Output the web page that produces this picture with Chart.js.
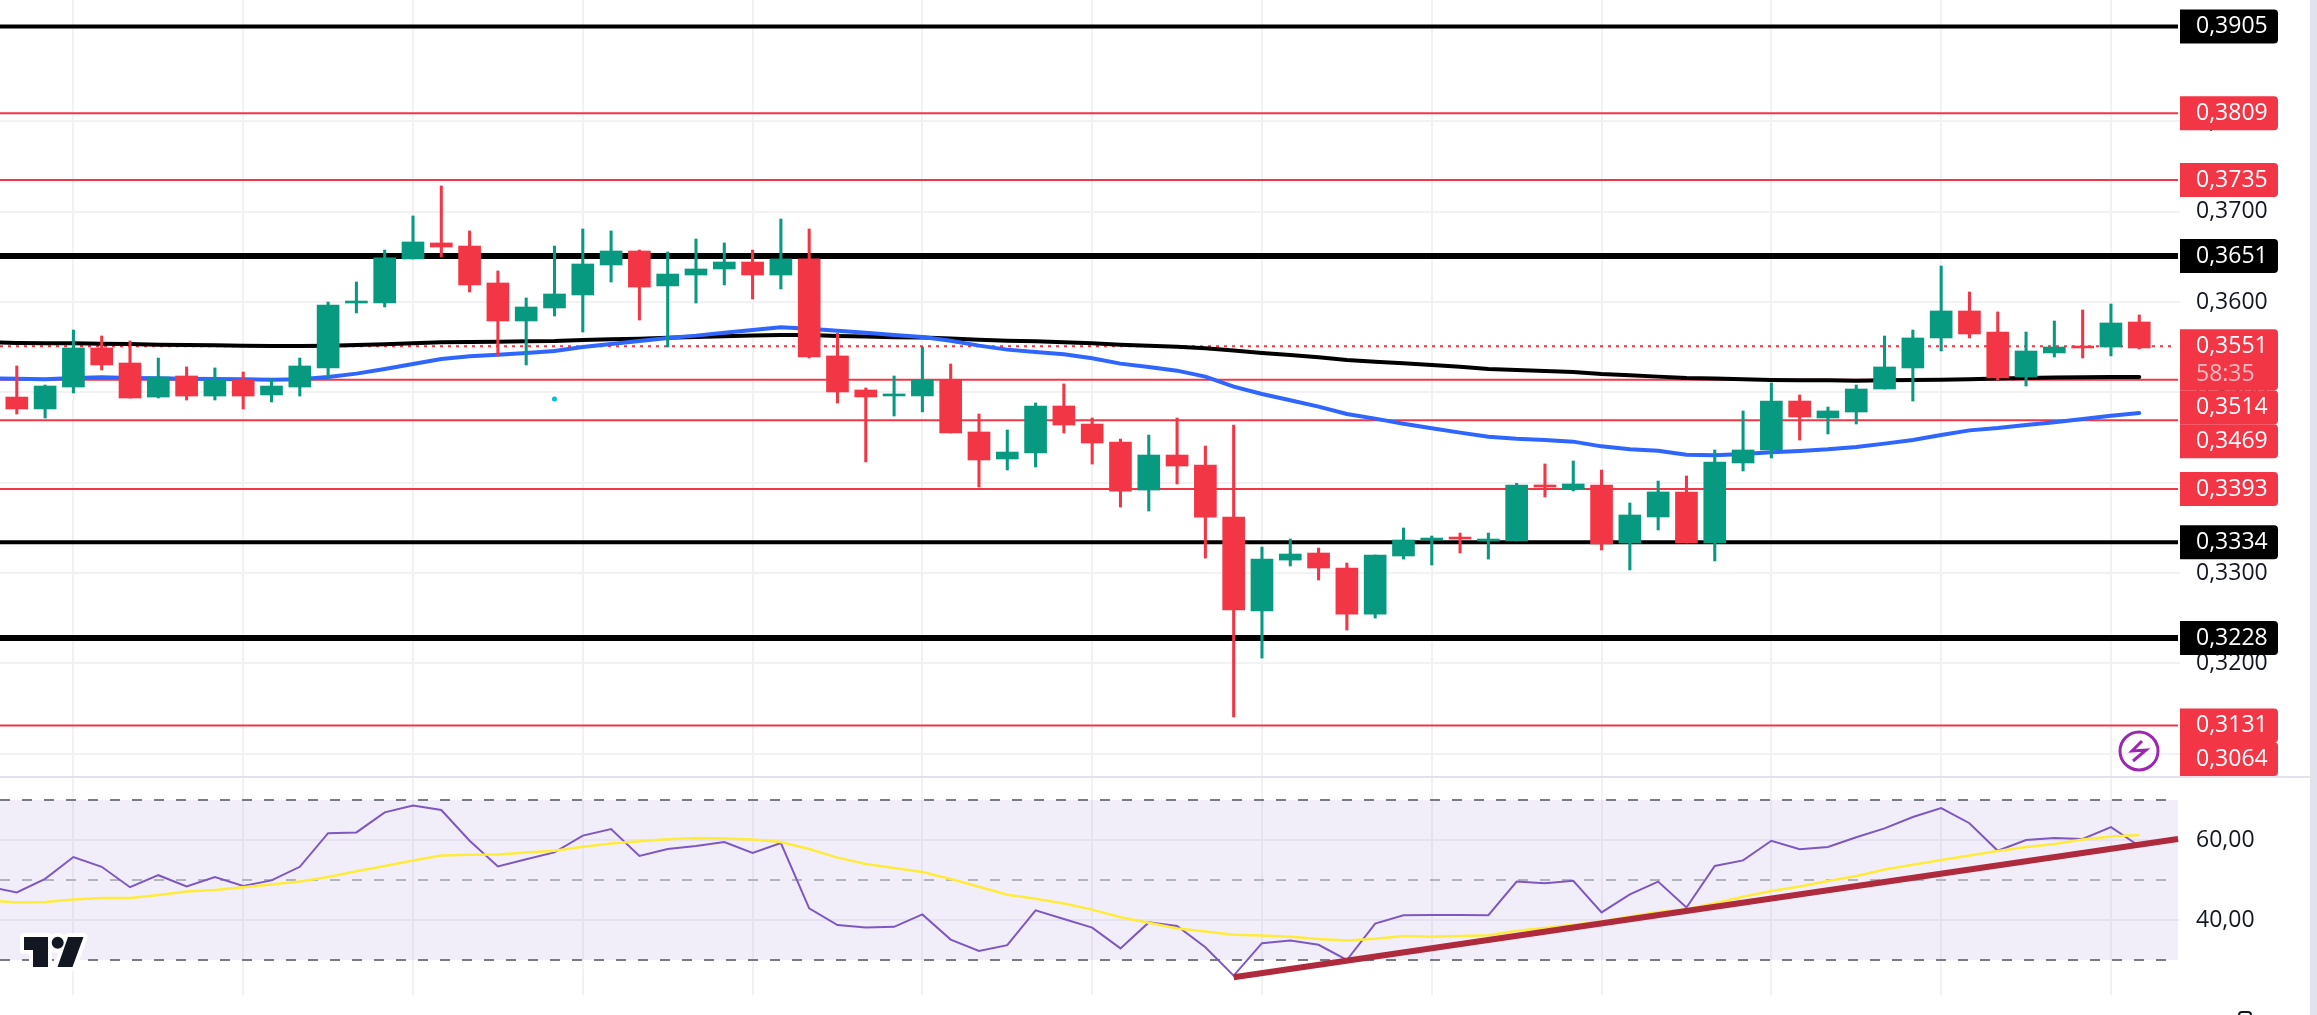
<!DOCTYPE html>
<html>
<head>
<meta charset="utf-8">
<title>XRP 0,3551</title>
<script src="https://cdn.jsdelivr.net/npm/chart.js@4"></script>
<style>
  html, body { margin: 0; padding: 0; background: #fff; overflow: hidden; }
  #pagina { position: relative; width: 2317px; height: 1015px; background: #fff; overflow: hidden; }
  canvas { position: absolute; left: 0; display: block; }
  #graficoPreco { top: 0; }
  #graficoRsi { top: 777px; }
  #separador { position: absolute; left: 0; top: 776px; width: 2310px; height: 2px; background: #e0e3eb; }
  #faixa { position: absolute; left: 2310px; top: 0; width: 7px; height: 1015px; background: #e0e3eb; }
  #engrenagem { position: absolute; left: 2238px; top: 1011px; width: 10px; height: 8px; border: 2px solid #131722; border-radius: 4px 4px 0 0; }
</style>
</head>
<body>
<div id="pagina">
  <canvas id="graficoPreco" width="2317" height="777"></canvas>
  <canvas id="graficoRsi" width="2317" height="218"></canvas>
  <div id="separador"></div>
  <div id="faixa"></div>
  <div id="engrenagem"></div>
</div>
<script>
// velas
const abertura = [0.34948,0.34816,0.35059,0.35491,0.35325,0.34948,0.35181,0.34959,0.35137,0.34971,0.35059,0.35270,0.35989,0.35989,0.36477,0.36654,0.36620,0.36211,0.35790,0.35934,0.36078,0.36410,0.36565,0.36178,0.36299,0.36366,0.36443,0.36299,0.36477,0.35403,0.35026,0.34960,0.34960,0.35137,0.34561,0.34262,0.34328,0.34849,0.34649,0.34450,0.33918,0.34306,0.34195,0.33619,0.32579,0.33143,0.33221,0.33055,0.32545,0.33188,0.33365,0.33398,0.33354,0.33354,0.33974,0.33930,0.33974,0.33332,0.33620,0.33897,0.33332,0.34218,0.34362,0.34904,0.34716,0.34782,0.35037,0.35270,0.35602,0.35901,0.35668,0.35170,0.35436,0.35513,0.35502,0.35779];
const maximas = [0.35292,0.35081,0.35690,0.35624,0.35569,0.35380,0.35281,0.35270,0.35225,0.35148,0.35380,0.36000,0.36222,0.36576,0.36953,0.37285,0.36787,0.36344,0.36045,0.36620,0.36809,0.36787,0.36576,0.36554,0.36698,0.36654,0.36576,0.36919,0.36809,0.35654,0.35048,0.35181,0.35502,0.35314,0.34760,0.34583,0.34882,0.35093,0.34716,0.34483,0.34527,0.34716,0.34406,0.34638,0.33287,0.33376,0.33276,0.33110,0.33199,0.33498,0.33409,0.33442,0.33442,0.33993,0.34207,0.34240,0.34140,0.33775,0.34018,0.34074,0.34362,0.34794,0.35104,0.34971,0.34838,0.35081,0.35624,0.35690,0.36399,0.36111,0.35890,0.35668,0.35790,0.35912,0.35978,0.35857];
const minimas = [0.34760,0.34716,0.34993,0.35247,0.34937,0.34937,0.34915,0.34915,0.34816,0.34893,0.34959,0.35159,0.35879,0.35945,0.36477,0.36499,0.36111,0.35402,0.35303,0.35845,0.35668,0.36222,0.35801,0.35502,0.35989,0.36189,0.36034,0.36144,0.35380,0.34882,0.34229,0.34738,0.34783,0.34550,0.33952,0.34140,0.34173,0.34550,0.34206,0.33730,0.33686,0.33985,0.33165,0.31405,0.32058,0.33077,0.32922,0.32368,0.32501,0.33154,0.33088,0.33221,0.33154,0.33354,0.33841,0.33908,0.33254,0.33033,0.33476,0.33332,0.33133,0.34129,0.34273,0.34472,0.34539,0.34650,0.35037,0.34904,0.35458,0.35602,0.35137,0.35070,0.35391,0.35380,0.35403,0.35480];
const fechamento = [0.34816,0.35070,0.35491,0.35303,0.34937,0.35170,0.34959,0.35137,0.34959,0.35070,0.35292,0.35967,0.36011,0.36488,0.36665,0.36609,0.36189,0.35790,0.35945,0.36089,0.36421,0.36565,0.36166,0.36310,0.36366,0.36443,0.36299,0.36477,0.35392,0.35004,0.34949,0.34982,0.35137,0.34550,0.34251,0.34339,0.34849,0.34638,0.34439,0.33907,0.34306,0.34184,0.33619,0.32590,0.33154,0.33210,0.33055,0.32545,0.33199,0.33365,0.33387,0.33376,0.33376,0.33974,0.33952,0.33985,0.33321,0.33642,0.33897,0.33332,0.34229,0.34362,0.34904,0.34727,0.34794,0.35037,0.35281,0.35602,0.35901,0.35646,0.35159,0.35458,0.35502,0.35491,0.35768,0.35491];

// medias moveis (comecam uma vela antes da primeira)
const mediaAzul = [0.35155,0.35151,0.35144,0.35159,0.35166,0.35159,0.35155,0.35151,0.35148,0.35144,0.35140,0.35144,0.35170,0.35207,0.35258,0.35314,0.35369,0.35399,0.35417,0.35436,0.35458,0.35502,0.35535,0.35569,0.35602,0.35628,0.35661,0.35690,0.35720,0.35705,0.35683,0.35661,0.35635,0.35613,0.35572,0.35517,0.35473,0.35447,0.35421,0.35377,0.35318,0.35281,0.35240,0.35174,0.35063,0.34982,0.34912,0.34842,0.34760,0.34709,0.34653,0.34602,0.34554,0.34509,0.34487,0.34472,0.34454,0.34402,0.34369,0.34354,0.34310,0.34303,0.34317,0.34336,0.34351,0.34369,0.34395,0.34432,0.34472,0.34528,0.34579,0.34605,0.34638,0.34668,0.34705,0.34742,0.34771];
const mediaPreta = [0.35554,0.35546,0.35543,0.35543,0.35539,0.35535,0.35528,0.35524,0.35521,0.35517,0.35513,0.35513,0.35517,0.35524,0.35532,0.35543,0.35554,0.35557,0.35561,0.35565,0.35569,0.35580,0.35587,0.35594,0.35605,0.35613,0.35620,0.35628,0.35635,0.35635,0.35624,0.35617,0.35609,0.35606,0.35595,0.35583,0.35572,0.35565,0.35554,0.35543,0.35528,0.35517,0.35506,0.35488,0.35462,0.35436,0.35414,0.35388,0.35358,0.35340,0.35321,0.35303,0.35284,0.35259,0.35248,0.35237,0.35225,0.35203,0.35188,0.35174,0.35159,0.35152,0.35144,0.35137,0.35133,0.35133,0.35129,0.35133,0.35137,0.35140,0.35144,0.35152,0.35159,0.35163,0.35166,0.35170,0.35170];

// niveis desenhados no grafico
const niveisPretos = [0.3905, 0.3651, 0.3334, 0.3228];
const niveisVermelhos = [0.3809, 0.3735, 0.3514, 0.3469, 0.3393, 0.3131, 0.3064];
const precoAtual = 0.3551;
const contagem = "58:35";
const ticksPreco = [0.38, 0.37, 0.36, 0.35, 0.34, 0.33, 0.32, 0.31];
const pontoCiano = [19, 0.34926];

// RSI (comeca uma vela antes da primeira)
const rsi = [48.3,46.9,50.3,55.75,53.3,48.2,51.2,48.4,50.75,48.5,49.9,53.3,61.7,61.9,66.9,68.6,67.5,59.8,53.4,55.2,56.9,61.1,62.75,56,57.75,58.5,59.5,56.75,59.25,42.9,38.75,38.1,38.3,41.4,35.1,32.25,33.7,42.4,40.25,38.1,32.9,39.4,38.5,33.2,26.1,34.2,34.9,33.8,30,39.1,41.2,41.25,41.25,41.2,49.6,49.2,49.8,41.9,46.4,49.6,43.1,53.5,54.9,59.8,57.7,58.25,60.7,62.9,65.75,68,64.2,57.3,60,60.5,60.25,63.2,58.5];
const rsiMedia = [44.9,44.4,44.5,45.1,45.5,45.5,46.25,47.1,47.5,48.2,48.9,49.6,50.75,52.2,53.5,54.9,56.1,56.3,56.4,56.9,57.3,58.3,59.1,59.7,60.2,60.5,60.4,60.1,59.5,57.75,55.6,54,53,52,50.25,48.3,46.3,45.3,44.1,42.6,40.7,39.3,37.9,37.1,36.3,36.1,35.8,35.25,34.9,35.3,36,35.8,36,36.2,37.3,38,38.8,39.6,40.9,42,42.7,44.2,45.8,47.25,48.4,49.75,51,52.6,53.8,55,56.1,57.25,58.25,59,60.1,60.9,61.25];
const tendenciaX = [43, 76.37];
const tendenciaY = [25.7, 60.25];
const bandaRsi = [70, 50, 30];
const ticksRsi = [60, 40];

// velas que recebem linha de grade vertical
const velasGrade = [2, 8, 14, 20, 26, 32, 38, 44, 50, 56, 62, 68, 74];

const VERDE = "#089981";
const VERMELHO = "#f23645";
const GRADE = "#f2f2f5";
const XMIN = -0.594;
const XMAX = 76.44;
const FIM_LINHA = 76.37;
const FIM_TRACO = 75.98;
const FONTE = '"Open Sans", sans-serif';
const TAM_FONTE = 23;

function linhaNivel(valor, cor, largura, traco, fim) {
  return {
    type: "line",
    data: [{ x: XMIN, y: valor }, { x: fim, y: valor }],
    borderColor: cor,
    borderWidth: largura,
    borderDash: traco || [],
    pointRadius: 0,
    order: 10,
  };
}

function serie(valores, inicio) {
  return valores.map((v, i) => ({ x: i + inicio, y: v }));
}

function eixoX() {
  return {
    type: "linear",
    min: XMIN,
    max: XMAX,
    offset: false,
    afterBuildTicks: (eixo) => {
      eixo.ticks = velasGrade.map((v) => ({ value: v }));
    },
    grid: { color: GRADE, lineWidth: 2, drawTicks: false, offset: false },
    border: { display: false },
    ticks: { display: false, autoSkip: false },
  };
}

function eixoY(min, max, valores, casas) {
  return {
    position: "right",
    min: min,
    max: max,
    afterBuildTicks: (eixo) => {
      eixo.ticks = valores.map((v) => ({ value: v }));
    },
    afterFit: (eixo) => {
      eixo.width = 137;
      eixo.paddingTop = 0;
      eixo.paddingBottom = 0;
    },
    grid: { color: GRADE, lineWidth: 2, drawTicks: false },
    border: { display: false },
    ticks: {
      autoSkip: false,
      color: "#131722",
      padding: 16,
      crossAlign: "near",
      font: { family: FONTE, size: TAM_FONTE },
      callback: (v) => Number(v).toFixed(casas).replace(".", ","),
    },
  };
}

// etiquetas da escala de preco, empilhadas de cima para baixo
const etiquetasPreco = {
  id: "etiquetasPreco",
  afterDraw(chart) {
    const ctx = chart.ctx;
    const y = chart.scales.y;
    const itens = [];
    niveisPretos.forEach((v) => itens.push({ v: v, cor: "#000000", alt: 34 }));
    niveisVermelhos.forEach((v) => itens.push({ v: v, cor: VERMELHO, alt: 34 }));
    itens.push({ v: precoAtual, cor: VERMELHO, alt: 61, contagem: contagem });
    itens.sort((a, b) => b.v - a.v);

    let fundo = 0;
    itens.forEach((it) => {
      const py = y.getPixelForValue(it.v);
      let topo = Math.max(py - (it.contagem ? 17 : it.alt / 2), fundo);
      if (topo + it.alt > 776) topo = 776 - it.alt;
      fundo = topo + it.alt;
      ctx.save();
      ctx.fillStyle = it.cor;
      ctx.beginPath();
      ctx.roundRect(2180, topo, 98, it.alt, [0, 4, 4, 0]);
      ctx.fill();
      ctx.font = TAM_FONTE + "px " + FONTE;
      ctx.textBaseline = "middle";
      ctx.fillStyle = "#ffffff";
      ctx.fillText(it.v.toFixed(4).replace(".", ","), 2196, topo + 17);
      if (it.contagem) {
        ctx.fillStyle = "rgba(255,255,255,0.65)";
        ctx.fillText(it.contagem, 2196, topo + 45);
      }
      ctx.restore();
    });

    // botao roxo
    ctx.save();
    ctx.strokeStyle = "#9c27b0";
    ctx.lineWidth = 3;
    ctx.beginPath();
    ctx.arc(2139, 751, 19, 0, Math.PI * 2);
    ctx.stroke();
    ctx.lineJoin = "miter";
    ctx.beginPath();
    ctx.moveTo(2142, 741);
    ctx.lineTo(2132, 751);
    ctx.lineTo(2146, 750);
    ctx.lineTo(2133, 761);
    ctx.stroke();
    ctx.restore();
  },
};

// logo no canto do painel de RSI
const logo = {
  id: "logo",
  afterDraw(chart) {
    const ctx = chart.ctx;
    const t = -777;
    ctx.save();
    ctx.translate(0, t);
    const formas = () => {
      ctx.beginPath();
      ctx.moveTo(24, 937);
      ctx.lineTo(48, 937);
      ctx.lineTo(48, 967);
      ctx.lineTo(33, 967);
      ctx.lineTo(33, 950);
      ctx.lineTo(24, 950);
      ctx.closePath();
      ctx.moveTo(68, 937);
      ctx.lineTo(83.5, 937);
      ctx.lineTo(72.5, 967);
      ctx.lineTo(57.5, 967);
      ctx.closePath();
      ctx.moveTo(63.7, 942.7);
      ctx.arc(57.7, 942.7, 6, 0, Math.PI * 2);
    };
    ctx.strokeStyle = "#ffffff";
    ctx.lineWidth = 8;
    ctx.lineJoin = "round";
    formas();
    ctx.stroke();
    ctx.fillStyle = "#131722";
    formas();
    ctx.fill();
    ctx.restore();
  },
};

Chart.defaults.animation = false;

new Chart(document.getElementById("graficoPreco"), {
  type: "bar",
  data: {
    datasets: [
      {
        label: "Corpo",
        data: abertura.map((a, i) => ({ x: i, y: [a, fechamento[i]] })),
        backgroundColor: abertura.map((a, i) => (fechamento[i] >= a ? VERDE : VERMELHO)),
        barThickness: 22,
        grouped: false,
        order: 1,
      },
      {
        label: "Pavio",
        data: abertura.map((a, i) => ({ x: i, y: [minimas[i], maximas[i]] })),
        backgroundColor: abertura.map((a, i) => (fechamento[i] >= a ? VERDE : VERMELHO)),
        barThickness: 2.4,
        grouped: false,
        order: 2,
      },
      {
        type: "line",
        label: "Media azul",
        data: serie(mediaAzul, -1),
        borderColor: "#2f66ff",
        borderWidth: 4,
        borderCapStyle: "round",
        pointRadius: 0,
        tension: 0,
        order: 3,
      },
      {
        type: "line",
        label: "Media preta",
        data: serie(mediaPreta, -1),
        borderColor: "#000000",
        borderWidth: 4,
        borderCapStyle: "round",
        pointRadius: 0,
        tension: 0,
        order: 4,
      },
      {
        type: "line",
        label: "Ponto",
        data: [{ x: pontoCiano[0], y: pontoCiano[1] }],
        pointRadius: 2.5,
        pointBackgroundColor: "#00bcd4",
        pointBorderWidth: 0,
        showLine: false,
        order: 5,
      },
      linhaNivel(precoAtual, VERMELHO, 2, [3, 5], FIM_LINHA - 0.2),
      ...niveisVermelhos.map((v) => linhaNivel(v, VERMELHO, 2, null, FIM_LINHA)),
      linhaNivel(0.3905, "#000000", 4, null, FIM_LINHA),
      linhaNivel(0.3651, "#000000", 6, null, FIM_LINHA),
      linhaNivel(0.3334, "#000000", 4, null, FIM_LINHA),
      linhaNivel(0.3228, "#000000", 6, null, FIM_LINHA),
    ],
  },
  options: {
    responsive: false,
    devicePixelRatio: 1,
    layout: { padding: 0, autoPadding: false },
    plugins: { legend: { display: false }, tooltip: { enabled: false } },
    scales: {
      x: eixoX(),
      y: eixoY(0.30741, 0.39344, ticksPreco, 4),
    },
  },
  plugins: [etiquetasPreco],
});

new Chart(document.getElementById("graficoRsi"), {
  type: "line",
  data: {
    datasets: [
      {
        label: "Linha de tendencia",
        data: [{ x: tendenciaX[0], y: tendenciaY[0] }, { x: tendenciaX[1], y: tendenciaY[1] }],
        borderColor: "#b02a3e",
        borderWidth: 6,
        pointRadius: 0,
        order: 1,
      },
      {
        label: "Media RSI",
        data: serie(rsiMedia, -1),
        borderColor: "#ffeb3b",
        borderWidth: 2.5,
        pointRadius: 0,
        tension: 0,
        order: 2,
      },
      {
        label: "RSI",
        data: serie(rsi, -1),
        borderColor: "#7e57c2",
        borderWidth: 2,
        pointRadius: 0,
        tension: 0,
        order: 3,
      },
      {
        label: "Fundo da banda",
        data: [{ x: XMIN, y: bandaRsi[0] }, { x: FIM_LINHA, y: bandaRsi[0] }],
        borderWidth: 0,
        pointRadius: 0,
        fill: { value: bandaRsi[2] },
        backgroundColor: "rgba(126,87,194,0.1)",
        order: 7,
      },
      {
        label: "Banda 70",
        data: [{ x: XMIN, y: bandaRsi[0] }, { x: FIM_TRACO, y: bandaRsi[0] }],
        borderColor: "#787b86",
        borderWidth: 2,
        borderDash: [10, 12],
        pointRadius: 0,
        order: 6,
      },
      {
        label: "Banda 50",
        data: [{ x: XMIN, y: bandaRsi[1] }, { x: FIM_TRACO, y: bandaRsi[1] }],
        borderColor: "#b2b5be",
        borderWidth: 2,
        borderDash: [10, 12],
        pointRadius: 0,
        order: 5,
      },
      {
        label: "Banda 30",
        data: [{ x: XMIN, y: bandaRsi[2] }, { x: FIM_TRACO, y: bandaRsi[2] }],
        borderColor: "#787b86",
        borderWidth: 2,
        borderDash: [10, 12],
        pointRadius: 0,
        order: 4,
      },
    ],
  },
  options: {
    responsive: false,
    devicePixelRatio: 1,
    layout: { padding: 0, autoPadding: false },
    plugins: { legend: { display: false }, tooltip: { enabled: false } },
    scales: {
      x: eixoX(),
      y: eixoY(21.25, 75.75, ticksRsi, 2),
    },
  },
  plugins: [logo],
});
</script>
</body>
</html>
